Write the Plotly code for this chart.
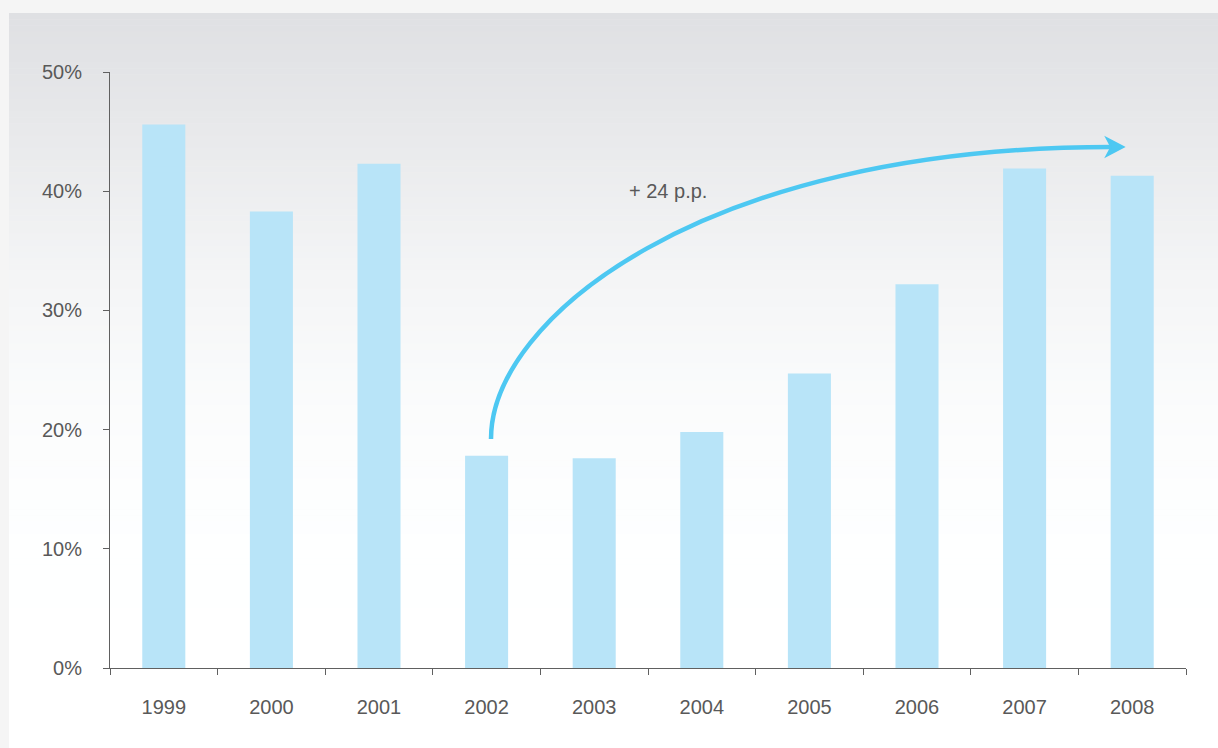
import plotly.graph_objects as go

years = ["1999", "2000", "2001", "2002", "2003", "2004", "2005", "2006", "2007", "2008"]
share = [45.6, 38.3, 42.3, 17.8, 17.6, 19.8, 24.7, 32.2, 41.9, 41.3]
y_ticks = [0, 10, 20, 30, 40, 50]
y_tick_text = ["0%", "10%", "20%", "30%", "40%", "50%"]
label_text = "+ 24 p.p."

W, H = 1218, 748
ML, MR, MT, MB = 110, 32, 72, 80
PW, PH = W - ML - MR, H - MT - MB

def px(x):
    return (x - ML) / PW

def py(y):
    return (H - MB - y) / PH

FONT = "Liberation Sans, Arial, sans-serif"
TXT = "#595959"
AX = "#606060"
BAR = "#b8e4f8"
ARROW = "#4dc8f2"

fig = go.Figure()
fig.add_trace(go.Bar(x=years, y=share, marker=dict(color=BAR, line=dict(width=0)), showlegend=False))

shapes = []
# gradient panel background
anchors = [(13, 223), (120, 231), (230, 240), (260, 243), (390, 250), (450, 252), (560, 254), (650, 255), (748, 255)]
def val(y):
    for (y0, v0), (y1, v1) in zip(anchors[:-1], anchors[1:]):
        if y0 <= y <= y1:
            return v0 + (v1 - v0) * (y - y0) / (y1 - y0)
    return 255
n = 120
step = (748 - 13) / n
for i in range(n):
    ya = 13 + i * step
    yb = ya + step + 0.6
    v = val(ya + step / 2)
    b = min(255, v + 3 * (255 - v) / 32 + 1) if v < 255 else 255
    g = min(255, v + 1) if v < 255 else 255
    col = f"rgb({int(round(v))},{int(round(g))},{int(round(b))})"
    shapes.append(dict(type="rect", xref="paper", yref="paper", x0=px(9), x1=px(W + 2),
                       y0=py(yb), y1=py(ya), fillcolor=col, line=dict(width=0), layer="below"))

# curved arrow
P0, P1, P2, P3 = (491, 439), (491, 320), (700, 147), (1112, 147)
path = "M {},{} C {},{} {},{} {},{}".format(px(P0[0]), py(P0[1]), px(P1[0]), py(P1[1]),
                                             px(P2[0]), py(P2[1]), px(P3[0]), py(P3[1]))
shapes.append(dict(type="path", xref="paper", yref="paper", path=path,
                   line=dict(color=ARROW, width=4.5), layer="above"))
head = [(1124, 147), (1106, 137.5), (1111, 147), (1106, 156.5)]
hp = "M " + " L ".join(f"{px(a)},{py(b)}" for a, b in head) + " Z"
shapes.append(dict(type="path", xref="paper", yref="paper", path=hp,
                   fillcolor=ARROW, line=dict(color=ARROW, width=1.5), layer="above"))

fig.update_layout(
    width=W, height=H,
    margin=dict(l=ML, r=MR, t=MT, b=MB, pad=0),
    paper_bgcolor="#f5f5f5",
    plot_bgcolor="rgba(0,0,0,0)",
    bargap=0.6,
    font=dict(family=FONT, size=20, color=TXT),
    shapes=shapes,
    annotations=[dict(text=label_text, xref="paper", yref="paper", x=px(668), y=py(191),
                      xanchor="center", yanchor="middle", showarrow=False,
                      font=dict(family=FONT, size=20, color=TXT))],
    xaxis=dict(type="category", tickson="boundaries", ticks="outside", ticklen=6, tickwidth=1,
               tickcolor=AX, showline=True, linecolor=AX, linewidth=1, showgrid=False,
               zeroline=False, ticklabelstandoff=21, tickfont=dict(size=20, color=TXT)),
    yaxis=dict(range=[0, 50], tickmode="array", tickvals=y_ticks, ticktext=y_tick_text,
               ticks="outside", ticklen=6,
               tickwidth=1, tickcolor=AX, showline=True, linecolor=AX, linewidth=1,
               showgrid=False, zeroline=False, ticklabelstandoff=17,
               tickfont=dict(size=20, color=TXT)),
)

fig.write_html("out.html")
